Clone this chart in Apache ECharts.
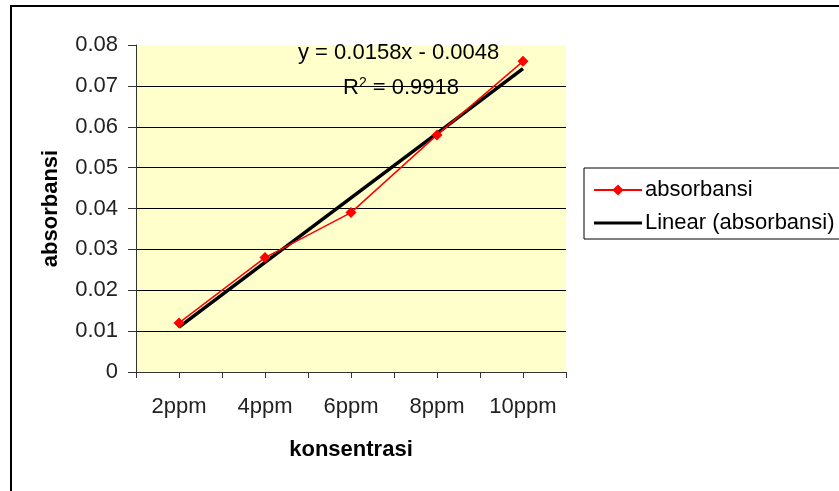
<!DOCTYPE html>
<html>
<head>
<meta charset="utf-8">
<script src="https://cdn.jsdelivr.net/npm/echarts@6/dist/echarts.min.js"></script>
<style>html,body{margin:0;padding:0;background:#fff}#c{width:839px;height:491px}</style>
</head>
<body>
<div id="c"></div>
<script>
var categories = ['2ppm', '4ppm', '6ppm', '8ppm', '10ppm'];
var absorbansi = [0.012, 0.028, 0.039, 0.058, 0.076];
var linearAbsorbansi = [0.011, 0.0268, 0.0426, 0.0584, 0.0742];
var yTicks = { min: 0, max: 0.08, interval: 0.01 };
var equationText = 'y = 0.0158x - 0.0048';
var r2Value = '0.9918';

var FONT = '"Liberation Sans", Arial, sans-serif';
var chart = echarts.init(document.getElementById('c'), null, { renderer: 'canvas' });
chart.setOption({
  backgroundColor: '#ffffff',
  animation: false,
  textStyle: { fontFamily: FONT },
  grid: {
    left: 136, top: 45, right: 273, bottom: 119,
    show: true, backgroundColor: '#FFFFCC', borderWidth: 0
  },
  legend: {
    orient: 'vertical',
    left: 584, top: 168,
    padding: [11, 14, 5, 9],
    itemGap: 11,
    itemWidth: 48, itemHeight: 14,
    borderColor: '#000', borderWidth: 1,
    backgroundColor: '#fff',
    symbolKeepAspect: true,
    textStyle: { fontFamily: FONT, fontSize: 22, color: '#000', lineHeight: 22, padding: [0, 0, 0, -2] },
    data: [
      { name: 'absorbansi' },
      { name: 'Linear (absorbansi)', icon: 'path://M0,0H48V3H0Z' }
    ]
  },
  xAxis: [{
    type: 'category',
    data: categories,
    boundaryGap: true,
    name: 'konsentrasi',
    nameLocation: 'middle',
    nameGap: 67,
    nameTextStyle: { fontFamily: FONT, fontSize: 22, fontWeight: 'bold', color: '#000' },
    axisLine: { show: true, lineStyle: { color: '#333', width: 1 } },
    axisTick: { show: true, length: 6, lineStyle: { color: '#333' } },
    axisLabel: { fontFamily: FONT, fontSize: 22, color: '#222', margin: 24, interval: 0 },
    splitLine: { show: false }
  }, {
    type: 'category',
    data: categories,
    boundaryGap: true,
    position: 'bottom',
    axisLine: { show: false },
    axisTick: { show: true, alignWithLabel: true, length: 6, interval: 0, lineStyle: { color: '#333' } },
    axisLabel: { show: false },
    splitLine: { show: false }
  }],
  yAxis: {
    type: 'value',
    min: yTicks.min, max: yTicks.max, interval: yTicks.interval,
    name: 'absorbansi',
    nameLocation: 'middle',
    nameGap: 74,
    nameTextStyle: { fontFamily: FONT, fontSize: 22, fontWeight: 'bold', color: '#000' },
    axisLine: { show: true, lineStyle: { color: '#333', width: 1 } },
    axisTick: { show: true, length: 8, lineStyle: { color: '#333' } },
    axisLabel: { fontFamily: FONT, fontSize: 22, color: '#222', margin: 18 },
    splitLine: { show: true, showMaxLine: false, showMinLine: false, lineStyle: { color: '#000', width: 1 } }
  },
  series: [{
    name: 'absorbansi',
    type: 'line',
    data: absorbansi,
    symbol: 'diamond',
    symbolSize: 11,
    itemStyle: { color: '#FF0000' },
    lineStyle: { color: '#FF0000', width: 1.5 },
    z: 3
  }, {
    name: 'Linear (absorbansi)',
    type: 'line',
    data: linearAbsorbansi,
    symbol: 'none',
    itemStyle: { color: '#000' },
    lineStyle: { color: '#000', width: 3.5 },
    z: 2
  }],
  graphic: [{
    type: 'rect',
    shape: { x: 11, y: 6, width: 900, height: 600 },
    style: { fill: null, stroke: '#000', lineWidth: 2 },
    z: -1, silent: true
  }, {
    type: 'text',
    left: 298, top: 42,
    style: { text: equationText, font: '22px "Liberation Sans", Arial, sans-serif', fill: '#000' },
    z: 10
  }, {
    type: 'text',
    left: 343, top: 76,
    style: {
      text: 'R{sup|2} = ' + r2Value,
      font: '22px "Liberation Sans", Arial, sans-serif', fill: '#000',
      rich: { sup: { fontSize: 14, verticalAlign: 'top', padding: [0, 0, 10, 0], fontFamily: FONT } }
    },
    z: 10
  }]
});
</script>
</body>
</html>
